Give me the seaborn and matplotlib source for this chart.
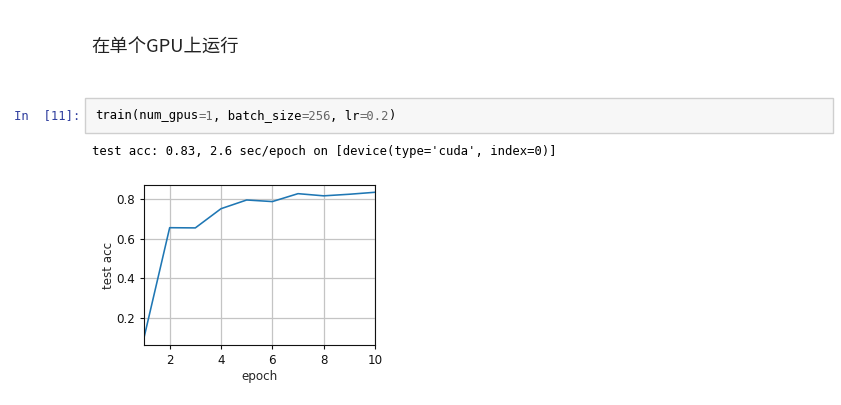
import numpy as np
import pandas as pd
import matplotlib
matplotlib.use('Agg')
import matplotlib.pyplot as plt
import seaborn as sns
from matplotlib.patches import Rectangle

# test accuracy per epoch
epochs = [1, 2, 3, 4, 5, 6, 7, 8, 9, 10]
test_acc = [0.10, 0.656, 0.655, 0.752, 0.796, 0.788, 0.828, 0.817, 0.825, 0.835]
x_ticks = [2, 4, 6, 8, 10]
y_ticks = [0.2, 0.4, 0.6, 0.8]

heading = '在单个GPU上运行'
prompt = 'In  [11]:'
code_parts = [('train(num_gpus', '#000000'), ('=1', '#666666'), (', batch_size', '#000000'),
              ('=256', '#666666'), (', lr', '#000000'), ('=0.2', '#666666'), (')', '#000000')]
output_line = "test acc: 0.83, 2.6 sec/epoch on [device(type='cuda', index=0)]"

sns.set_style('ticks')
plt.rcParams['font.family'] = ['Noto Sans CJK SC', 'DejaVu Sans']

W, H = 841, 405
fig = plt.figure(figsize=(W / 100, H / 100), dpi=100)
fig.patch.set_facecolor('white')

def fx(px):
    return px / W

def fy(py):
    return 1 - py / H

# notebook chrome
fig.text(fx(91), fy(48), heading, fontsize=13.2, va='center', ha='left',
         family=['Noto Sans CJK SC', 'DejaVu Sans'], color='#222222')
fig.patches.append(Rectangle((fx(85), fy(133)), fx(833) - fx(85), fy(98) - fy(133),
                             transform=fig.transFigure, facecolor='#f7f7f7',
                             edgecolor='#cfcfcf', linewidth=1))
mono = 'DejaVu Sans Mono'
fs = 8.8
cw = 0.602 * fs * 100 / 72
fig.text(fx(14), fy(116), prompt, fontsize=fs, family=mono, color='#303F9F', va='center')
pos = 0
for txt, col in code_parts:
    fig.text(fx(95 + pos * cw), fy(116), txt, fontsize=fs, family=mono, color=col, va='center')
    pos += len(txt)
fig.text(fx(92), fy(151), output_line, fontsize=fs, family=mono, color='#000000', va='center')

# chart
ax = fig.add_axes([fx(144), fy(345), fx(375) - fx(144), fy(185) - fy(345)])
df = pd.DataFrame({'epoch': epochs, 'test acc': test_acc})
sns.lineplot(data=df, x='epoch', y='test acc', ax=ax, color='#1f77b4', linewidth=1.15)
ax.set_xlim(1, 10)
ax.set_xticks(x_ticks)
ax.set_yticks(y_ticks)
ax.grid(True, color='#c4c4c4', linewidth=0.9)
for s in ax.spines.values():
    s.set_visible(True)
    s.set_color('#111111')
    s.set_linewidth(0.8)
ax.tick_params(labelsize=8.6, length=3, width=0.8, colors='#111111', pad=3.5)
ax.set_xlabel('epoch', fontsize=8.6, family='DejaVu Sans', labelpad=1.8)
ax.set_ylabel('test acc', fontsize=8.6, family='DejaVu Sans', labelpad=1)
for lab in ax.get_xticklabels() + ax.get_yticklabels():
    lab.set_family('DejaVu Sans')

fig.savefig('out.png', dpi=100, facecolor='white')
